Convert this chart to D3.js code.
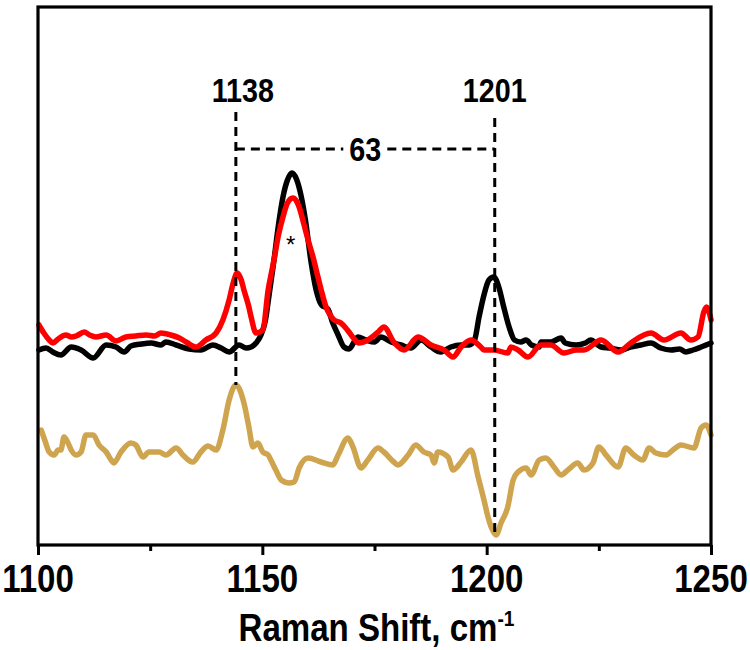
<!DOCTYPE html>
<html>
<head>
<meta charset="utf-8">
<script src="https://cdn.jsdelivr.net/npm/d3@7/dist/d3.min.js"></script>
<style>
  html, body { margin: 0; padding: 0; background: #fff; }
  text { font-family: "Liberation Sans", Arial, sans-serif; font-weight: bold; fill: #000; }
</style>
</head>
<body>
<svg id="chart" width="750" height="650"></svg>
<script>
// ---------------- data (Raman shift in cm-1, intensity in arbitrary units) ----------------
const xTicks = [1100, 1150, 1200, 1250];
const xMinorTicks = [1125, 1175, 1225];
const xTickLabels = ["1100", "1150", "1200", "1250"];

const blackShift = [1100.2,1101.8,1103.3,1105.1,1107.4,1109.6,1112.3,1115.2,1117.4,1119.2,1120.7,1123.0,1125.2,1127.4,1128.5,1130.8,1133.7,1136.3,1139.0,1140.8,1142.6,1144.8,1146.4,1147.5,1148.6,1149.7,1150.7,1151.5,1152.6,1153.6,1154.6,1155.6,1156.6,1157.6,1158.6,1159.6,1160.8,1162.0,1163.2,1164.6,1165.7,1166.9,1168.2,1169.3,1171.3,1173.1,1175.0,1176.4,1178.7,1180.9,1183.1,1185.4,1187.6,1189.8,1192.0,1194.3,1196.1,1197.3,1198.3,1199.4,1200.5,1201.6,1202.7,1203.8,1205.0,1206.2,1207.6,1208.8,1210.0,1211.7,1212.1,1214.3,1216.6,1217.5,1219.9,1222.0,1223.2,1225.5,1227.5,1229.9,1232.0,1234.4,1236.6,1238.8,1241.1,1243.0,1244.4,1246.0,1247.8,1250.0];
const blackInt = [195,197,193,190,198,195,187,200,198,193,199,201,202,200,203,200,196,195,200,197,193,200,197,198,202,210,225,250,285,320,348,365,372,366,350,325,285,255,240,236,222,210,198,196,208,205,203,208,203,200,197,205,198,193,198,200,200,205,228,250,265,268,258,238,218,205,203,205,200,198,203,203,207,202,200,202,205,198,197,195,198,200,202,197,195,196,193,195,198,202];

const redShift = [1100.2,1101.3,1102.5,1103.3,1104.5,1106.2,1107.5,1108.5,1110.3,1111.5,1112.9,1115.2,1117.4,1119.6,1121.8,1124.1,1126.0,1127.4,1129.6,1131.5,1133.0,1135.2,1137.4,1139.7,1141.2,1142.6,1143.5,1144.4,1145.3,1145.9,1147.0,1147.5,1148.6,1150.1,1151.3,1152.6,1153.6,1154.6,1155.6,1156.8,1157.6,1158.2,1159.2,1160.2,1161.3,1162.4,1163.3,1164.2,1165.1,1166.0,1167.5,1168.6,1169.3,1170.5,1171.5,1173.5,1175.8,1177.1,1179.3,1181.6,1184.7,1187.6,1190.5,1192.5,1194.3,1196.5,1198.7,1199.4,1201.6,1204.7,1205.4,1207.0,1209.2,1212.1,1214.3,1217.2,1220.0,1221.7,1225.5,1229.3,1232.1,1236.6,1239.5,1243.3,1245.5,1247.1,1248.4,1249.0,1250.0];
const redInt = [220,212,205,202,206,210,208,209,213,210,208,210,204,208,209,210,209,212,210,207,203,198,205,212,225,245,262,272,265,255,238,228,212,215,255,285,310,328,342,347,344,338,322,305,288,268,252,238,230,225,222,217,213,206,202,205,213,218,203,195,208,200,195,188,198,205,198,195,195,192,198,195,188,200,200,192,195,195,205,193,202,212,205,212,205,208,233,238,225];

const goldShift = [1100.7,1101.5,1102.5,1103.6,1104.5,1105.1,1105.8,1106.7,1107.4,1108.5,1109.6,1110.7,1112.3,1113.6,1115.2,1116.3,1116.9,1118.5,1120.7,1121.8,1123.4,1124.7,1127.0,1128.5,1130.8,1132.3,1134.5,1136.3,1137.9,1139.7,1141.2,1142.6,1144.1,1145.9,1147.0,1147.9,1149.0,1150.1,1151.3,1151.9,1153.0,1154.2,1155.9,1157.1,1158.2,1160.2,1163.1,1165.7,1166.9,1169.1,1170.2,1172.0,1173.5,1175.8,1177.1,1179.3,1180.2,1182.5,1184.2,1186.0,1187.6,1188.3,1189.1,1191.4,1192.5,1194.3,1196.5,1198.1,1199.4,1200.3,1201.0,1202.1,1203.2,1204.7,1205.9,1207.0,1208.8,1209.9,1211.7,1213.2,1215.0,1216.6,1218.1,1220.3,1221.7,1223.7,1225.0,1226.6,1229.3,1231.0,1232.8,1234.8,1236.2,1237.7,1240.0,1241.5,1243.3,1246.2,1247.8,1248.9,1250.0];
const goldInt = [115,105,93,90,95,95,108,102,95,90,93,110,110,100,93,85,82,93,102,100,88,93,93,90,97,90,83,93,99,95,115,145,160,142,118,98,102,93,90,85,75,65,62,63,77,87,83,80,90,107,98,77,85,97,93,83,80,90,100,93,90,82,93,88,75,83,95,68,45,28,18,10,22,38,65,73,77,70,85,87,78,70,75,82,75,82,98,90,78,97,90,85,97,92,90,95,100,97,117,120,110];

// annotation marker positions (cm-1) and their printed labels
const markerShift = [1144.1, 1201.8];
const markerLabels = ["1138", "1201"];
const markerTop = [433, 427];
const markerBottom = [160, 10];
const bracketLevel = 396;
const spacingLabel = "63";
const starShift = 1156.3;
const starInt = 292;

// ---------------- layout ----------------
const svg = d3.select("#chart");
const padL = 38, padR = 711, padT = 7, padB = 545;
const x = d3.scaleLinear().domain([1100, 1250]).range([padL, padR]);
const y = d3.scaleLinear().domain([0, 540]).range([padB, padB - 540]);
const SX = 0.87; // horizontal condensing of the font

function condensedText(g, px, py, str, size, anchor) {
  return g.append("text")
    .attr("transform", `translate(${px},${py}) scale(${SX},1)`)
    .attr("text-anchor", anchor || "middle")
    .style("font-size", size + "px")
    .text(str);
}

const line = d3.line().x(d => x(d[0])).y(d => y(d[1])).curve(d3.curveMonotoneX);
const zip = (a, b) => a.map((v, i) => [v, b[i]]);

const plot = svg.append("g");
[[blackShift, blackInt, "#000000"], [redShift, redInt, "#ff0000"], [goldShift, goldInt, "#cfa44f"]]
  .forEach(([sx, si, col]) => {
    plot.append("path").datum(zip(sx, si))
      .attr("d", line).attr("fill", "none").attr("stroke", col)
      .attr("stroke-width", 5.5).attr("stroke-linejoin", "round").attr("stroke-linecap", "round");
  });

// dashed markers
const ann = svg.append("g");
const dashW = 3, dashPat = "9,6";
markerShift.forEach((s, i) => {
  ann.append("line")
    .attr("x1", x(s)).attr("x2", x(s))
    .attr("y1", y(markerTop[i])).attr("y2", y(markerBottom[i]))
    .attr("stroke", "#000").attr("stroke-width", dashW).attr("stroke-dasharray", dashPat);
  condensedText(ann, x(s) + (i === 0 ? 7 : 0), 102, markerLabels[i], 33);
});
const midShift = (markerShift[0] + markerShift[1]) / 2;
const gapHalf = 22;
ann.append("line")
  .attr("x1", x(markerShift[0])).attr("x2", x(midShift) - gapHalf)
  .attr("y1", y(bracketLevel)).attr("y2", y(bracketLevel))
  .attr("stroke", "#000").attr("stroke-width", dashW).attr("stroke-dasharray", dashPat);
ann.append("line")
  .attr("x1", x(midShift) + gapHalf).attr("x2", x(markerShift[1]))
  .attr("y1", y(bracketLevel)).attr("y2", y(bracketLevel))
  .attr("stroke", "#000").attr("stroke-width", dashW).attr("stroke-dasharray", dashPat);
condensedText(ann, x(midShift), y(bracketLevel) + 12, spacingLabel, 33);

ann.append("text")
  .attr("x", x(starShift)).attr("y", y(starInt))
  .attr("text-anchor", "middle")
  .style("font-size", "24px").style("font-weight", "normal")
  .text("*");

// frame
svg.append("rect")
  .attr("x", padL).attr("y", padT).attr("width", padR - padL).attr("height", padB - padT)
  .attr("fill", "none").attr("stroke", "#000").attr("stroke-width", 3.2);

// x axis
const axis = svg.append("g").attr("transform", `translate(0,${padB})`)
  .call(d3.axisBottom(x).tickValues(xTicks).tickSize(10).tickFormat(() => ""));
axis.select(".domain").remove();
axis.selectAll(".tick line").attr("stroke", "#000").attr("stroke-width", 3);
const minor = svg.append("g").attr("transform", `translate(0,${padB})`)
  .call(d3.axisBottom(x).tickValues(xMinorTicks).tickSize(6).tickFormat(() => ""));
minor.select(".domain").remove();
minor.selectAll(".tick line").attr("stroke", "#000").attr("stroke-width", 3);

xTicks.forEach((t, i) => condensedText(svg, x(t), 592, xTickLabels[i], 38));

// axis title
const title = svg.append("text")
  .attr("transform", `translate(${(padL + padR) / 2 + 2},641) scale(${SX},1)`)
  .attr("text-anchor", "middle")
  .style("font-size", "38px");
title.append("tspan").text("Raman Shift, cm");
title.append("tspan").attr("dy", -15).style("font-size", "22px").text("-1");
</script>
</body>
</html>
